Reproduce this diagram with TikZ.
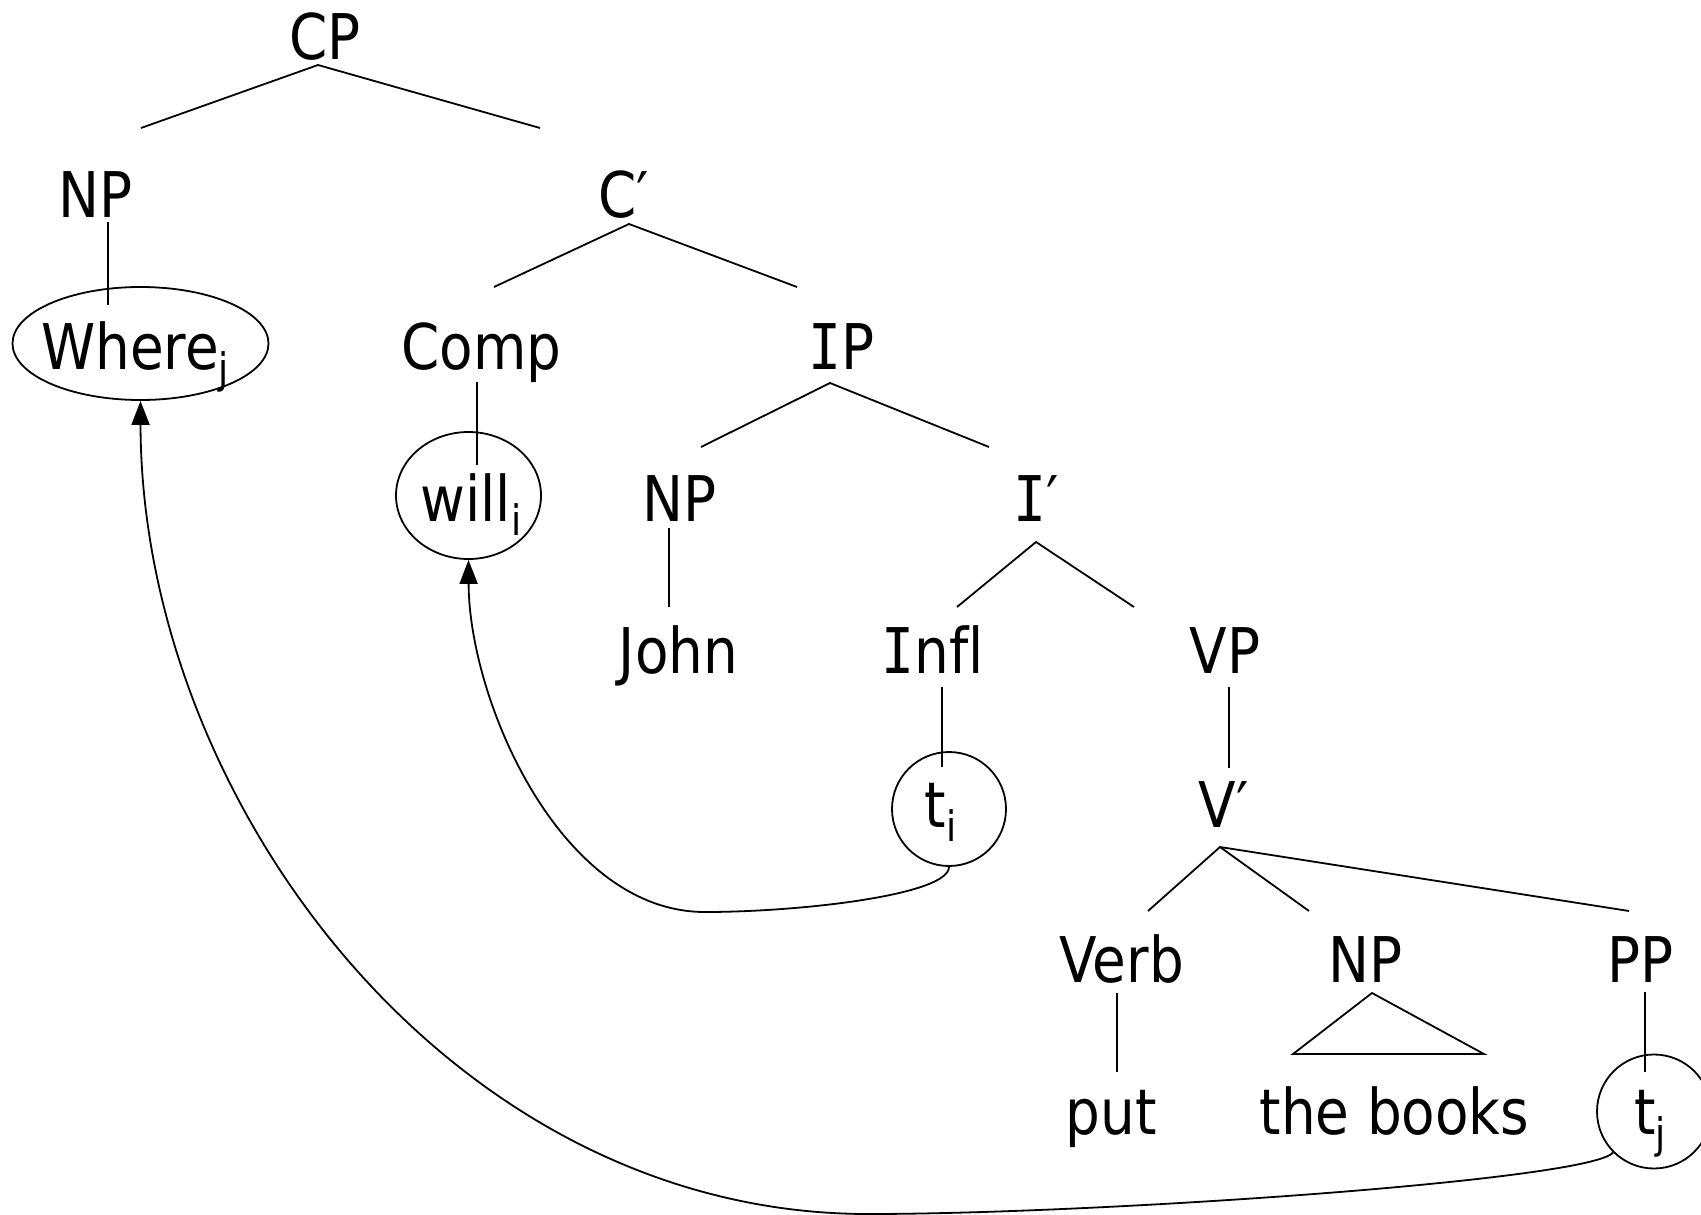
\documentclass[tikz,border=0pt]{standalone}
\usepackage{fontspec}
\setmainfont{DejaVu Sans}[FakeStretch=0.87]
\newfontfamily\serifI{DejaVu Sans Mono}[FakeStretch=0.87]
\usetikzlibrary{shapes.geometric,arrows.meta}
\newcommand{\mysub}[1]{\raisebox{-14pt}{\fontsize{42}{42}\selectfont #1}}
\newcommand{\myI}{{\serifI I}}
\begin{document}
\begin{tikzpicture}[x=1pt,y=-1pt,
  lbl/.style={anchor=base,inner sep=0pt,font=\fontsize{63}{70}\selectfont},
  ring/.style={draw,ellipse,line width=1.8pt,inner sep=0pt},
  edge/.style={line width=1.8pt},
  move/.style={line width=1.8pt,-{Triangle[length=24pt,width=18pt]}}]
\useasboundingbox (0,0) rectangle (1701,1215);
% labels
\node[lbl] (cp) at (325,60) {CP};
\node[lbl] (np1) at (95.5,217) {NP};
\node[lbl] (cbar) at (624,217) {C′};
\node[lbl] (where) at (135,369) {Where\mysub{j}};
\node[lbl] (comp) at (481.6,369) {Comp};
\node[lbl] (ip) at (842,369) {\myI P};
\node[lbl] (will) at (471,521) {will\mysub{i}};
\node[lbl] (np2) at (680,521) {NP};
\node[lbl] (ibar) at (1036,521) {\myI′};
\node[lbl] (john) at (678.5,673) {John};
\node[lbl] (infl) at (933,673) {\myI nf\kern0pt l};
\node[lbl] (vp) at (1225,673) {VP};
\node[lbl] (ti) at (940.5,827) {t\mysub{i}};
\node[lbl] (vbar) at (1223.6,827) {V′};
\node[lbl] (verb) at (1121.7,982) {Verb};
\node[lbl] (np3) at (1366,982) {NP};
\node[lbl] (pp) at (1640.7,982) {PP};
\node[lbl] (put) at (1111,1134) {put};
\node[lbl] (books) at (1394.5,1134) {the books};
\node[lbl] (tj) at (1650,1134) {t\mysub{j}};
% rings
\node[ring,minimum width=256pt,minimum height=113pt] (wherec) at (140.5,343.5) {};
\node[ring,minimum width=145pt,minimum height=127pt] (willc) at (468.5,495.5) {};
\node[ring,minimum width=114pt,minimum height=114pt] (tic) at (949,809) {};
\node[ring,minimum width=114pt,minimum height=114pt] (tjc) at (1654,1111.5) {};
% branch points
\coordinate (cpA) at (318,65);  \coordinate (cpL) at (141,128); \coordinate (cpR) at (540,128);
\coordinate (np1A) at (108,222); \coordinate (np1B) at (108,305);
\coordinate (cbA) at (629,224); \coordinate (cbL) at (494,287); \coordinate (cbR) at (797,287);
\coordinate (compA) at (477,382); \coordinate (compB) at (477,465);
\coordinate (ipA) at (830,383); \coordinate (ipL) at (701,447); \coordinate (ipR) at (989,447);
\coordinate (np2A) at (669,528); \coordinate (np2B) at (669,607);
\coordinate (ibA) at (1036,542); \coordinate (ibL) at (957,607); \coordinate (ibR) at (1134,607);
\coordinate (inflA) at (942,687); \coordinate (inflB) at (942,767);
\coordinate (vpA) at (1229,687); \coordinate (vpB) at (1229,768);
\coordinate (vbA) at (1220,847); \coordinate (vbL) at (1148,911); \coordinate (vbM) at (1309,911); \coordinate (vbR) at (1629,911);
\coordinate (verbA) at (1117,993); \coordinate (verbB) at (1117,1072);
\coordinate (triA) at (1372,993); \coordinate (triL) at (1293,1054); \coordinate (triR) at (1484,1054);
\coordinate (ppA) at (1645,992); \coordinate (ppB) at (1645,1072);
% tree lines
\draw[edge] (cpL) -- (cpA) -- (cpR);
\draw[edge] (np1A) -- (np1B);
\draw[edge] (cbL) -- (cbA) -- (cbR);
\draw[edge] (compA) -- (compB);
\draw[edge] (ipL) -- (ipA) -- (ipR);
\draw[edge] (np2A) -- (np2B);
\draw[edge] (ibL) -- (ibA) -- (ibR);
\draw[edge] (inflA) -- (inflB);
\draw[edge] (vpA) -- (vpB);
\draw[edge] (vbL) -- (vbA) -- (vbM);
\draw[edge] (vbA) -- (vbR);
\draw[edge] (verbA) -- (verbB);
\draw[edge] (triL) -- (triA) -- (triR) -- cycle;
\draw[edge] (ppA) -- (ppB);
% movement arrows
\coordinate (low1) at (705,912);
\coordinate (low2) at (868,1214);
\draw[move] (tic.south) .. controls (949,895) and (800,912) .. (low1)
  .. controls (560,912) and (469,700) .. (willc.south);
\draw[move] (tjc.225) .. controls (1592,1180) and (1100,1214) .. (low2)
  .. controls (450,1214) and (141,800) .. (wherec.south);
\end{tikzpicture}
\end{document}
